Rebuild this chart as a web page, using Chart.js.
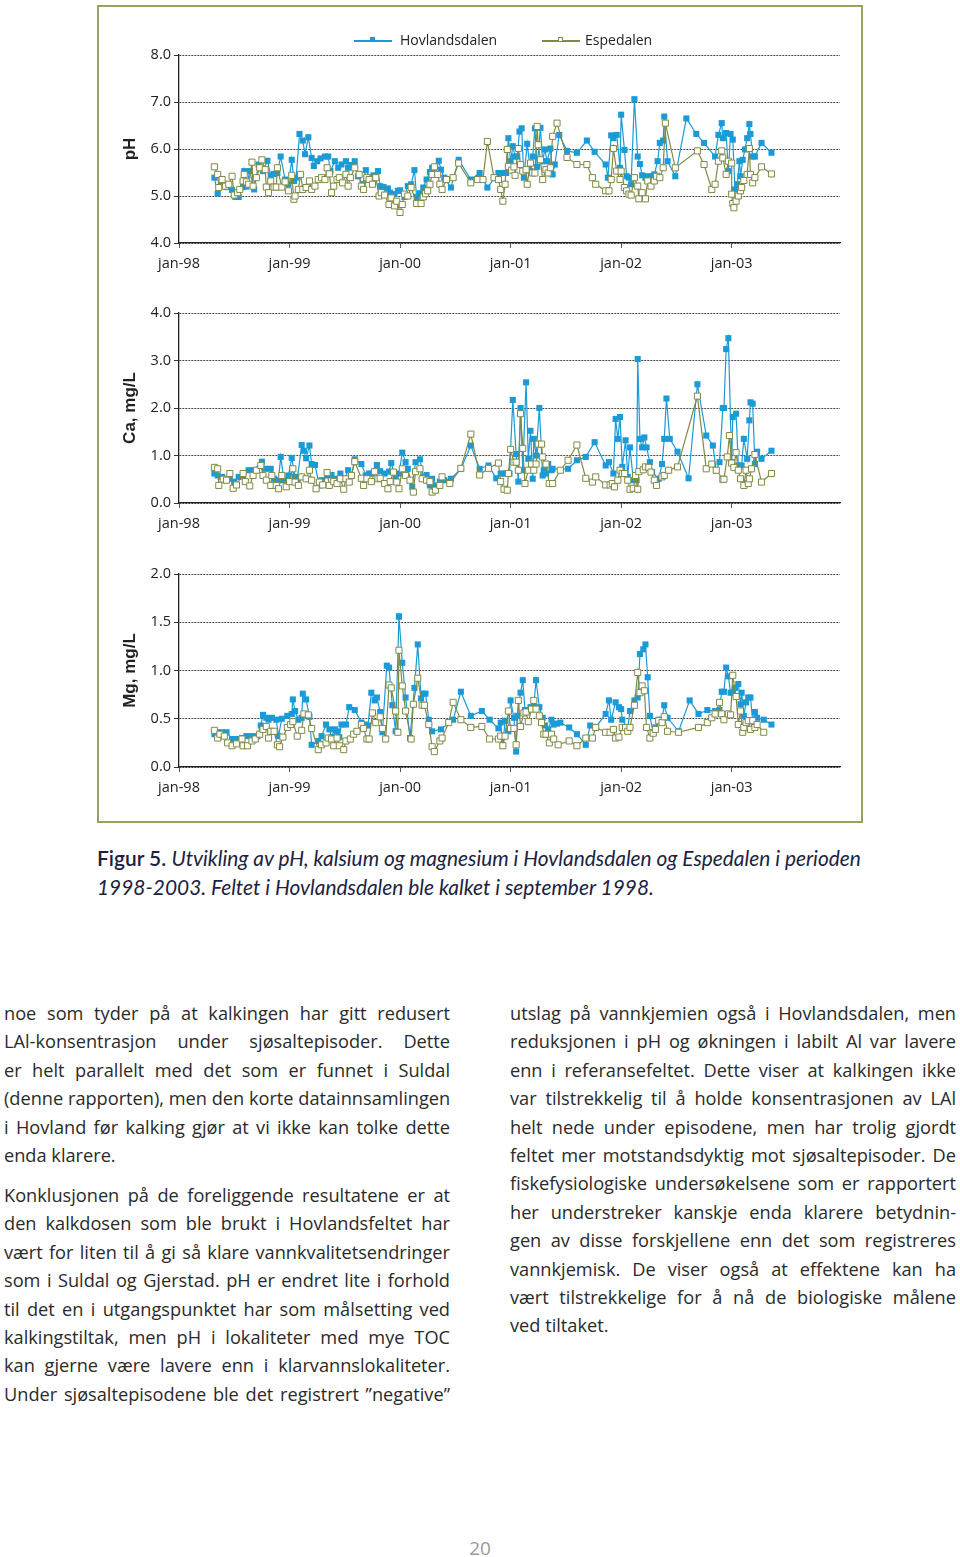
<!DOCTYPE html>
<html>
<head>
<meta charset="utf-8">
<script src="https://cdn.jsdelivr.net/npm/chart.js@4.4.1/dist/chart.umd.min.js"></script>
<style>
  html, body { margin:0; padding:0; background:#fff; }
  body { width:960px; height:1557px; position:relative; overflow:hidden; font-family:"Open Sans", sans-serif; }
  #frame { position:absolute; left:97px; top:5px; width:762px; height:814px; border:2px solid #97a263; }
  canvas.panel { position:absolute; left:97px; }
  .legend { position:absolute; top:31px; font-family:"Open Sans", sans-serif; font-size:14px; color:#222; line-height:18px; }
  .legend .ln { position:absolute; top:9px; height:1.5px; width:38px; }
  .legend .mk { position:absolute; top:6px; width:5px; height:5px; box-sizing:border-box; }
  .caption { position:absolute; left:97px; top:844px; width:820px; font-family:Lato, sans-serif; font-size:20.9px; line-height:28.5px; color:#1c2340; white-space:nowrap; }
  .caption b { font-weight:600; font-style:normal; }
  .caption i { font-style:italic; }
  .col { position:absolute; top:999px; width:446px; font-family:"Open Sans", sans-serif; font-size:18.2px; color:#2a2a2a; }
  .col div { height:28.4px; line-height:28.4px; white-space:nowrap; text-align:justify; text-align-last:justify; }
  .col div.last { text-align-last:left; }
  .col div.gap { margin-top:11.6px; }
  #pg { position:absolute; left:0; width:960px; top:1535px; text-align:center; font-family:"Open Sans", sans-serif; font-size:19px; color:#9a9a9a; }
</style>
</head>
<body>
<div id="frame"></div>
<canvas id="c1" class="panel" width="766" height="280" style="top:5px;width:766px;height:280px"></canvas>
<canvas id="c2" class="panel" width="766" height="255" style="top:285px;width:766px;height:255px"></canvas>
<canvas id="c3" class="panel" width="766" height="283" style="top:540px;width:766px;height:283px"></canvas>

<div class="legend" style="left:354px;">
  <span class="ln" style="left:0;background:#1a9bd7"></span>
  <span class="mk" style="left:16px;background:#1a9bd7"></span>
  <span style="position:absolute;left:46px;white-space:nowrap">Hovlandsdalen</span>
</div>
<div class="legend" style="left:542px;">
  <span class="ln" style="left:0;background:#7f8a45"></span>
  <span class="mk" style="left:16px;background:#fff;border:1px solid #7f8a45"></span>
  <span style="position:absolute;left:43px;white-space:nowrap">Espedalen</span>
</div>

<div class="caption"><b>Figur 5.</b> <i>Utvikling av pH, kalsium og magnesium i Hovlandsdalen og Espedalen i perioden<br>1998-2003. Feltet i Hovlandsdalen ble kalket i september 1998.</i></div>

<div class="col" style="left:4px;">
  <div>noe som tyder på at kalkingen har gitt redusert</div>
  <div>LAl-konsentrasjon under sjøsaltepisoder. Dette</div>
  <div>er helt parallelt med det som er funnet i Suldal</div>
  <div>(denne rapporten), men den korte datainnsamlingen</div>
  <div>i Hovland før kalking gjør at vi ikke kan tolke dette</div>
  <div class="last">enda klarere.</div>
  <div class="gap">Konklusjonen på de foreliggende resultatene er at</div>
  <div>den kalkdosen som ble brukt i Hovlandsfeltet har</div>
  <div>vært for liten til å gi så klare vannkvalitetsendringer</div>
  <div>som i Suldal og Gjerstad. pH er endret lite i forhold</div>
  <div>til det en i utgangspunktet har som målsetting ved</div>
  <div>kalkingstiltak, men pH i lokaliteter med mye TOC</div>
  <div>kan gjerne være lavere enn i klarvannslokaliteter.</div>
  <div>Under sjøsaltepisodene ble det registrert ”negative”</div>
</div>
<div class="col" style="left:510px;">
  <div>utslag på vannkjemien også i Hovlandsdalen, men</div>
  <div>reduksjonen i pH og økningen i labilt Al var lavere</div>
  <div>enn i referansefeltet. Dette viser at kalkingen ikke</div>
  <div>var tilstrekkelig til å holde konsentrasjonen av LAl</div>
  <div>helt nede under episodene, men har trolig gjordt</div>
  <div>feltet mer motstandsdyktig mot sjøsaltepisoder. De</div>
  <div>fiskefysiologiske undersøkelsene som er rapportert</div>
  <div>her understreker kanskje enda klarere betydnin-</div>
  <div>gen av disse forskjellene enn det som registreres</div>
  <div>vannkjemisk. De viser også at effektene kan ha</div>
  <div>vært tilstrekkelige for å nå de biologiske målene</div>
  <div class="last">ved tiltaket.</div>
</div>
<div id="pg">20</div>

<script>
// ---- Data (dates as decimal years) ----
const seriesNames = ['Hovlandsdalen', 'Espedalen'];
const xTickYears  = [1998, 1999, 2000, 2001, 2002, 2003];
const xTickLabels = ['jan-98', 'jan-99', 'jan-00', 'jan-01', 'jan-02', 'jan-03'];

// pH
const hovPhDates = [1998.32,1998.35,1998.39,1998.43,1998.48,1998.51,1998.54,1998.58,1998.59,1998.61,1998.64,1998.68,1998.72,1998.76,1998.80,1998.83,1998.86,1998.89,1998.92,1998.96,1998.99,1999.02,1999.04,1999.06,1999.09,1999.12,1999.14,1999.17,1999.20,1999.22,1999.25,1999.28,1999.32,1999.35,1999.37,1999.41,1999.44,1999.47,1999.51,1999.53,1999.56,1999.59,1999.62,1999.66,1999.69,1999.73,1999.76,1999.80,1999.82,1999.85,1999.89,1999.91,1999.95,1999.98,2000.00,2000.04,2000.07,2000.10,2000.13,2000.15,2000.18,2000.21,2000.24,2000.27,2000.29,2000.32,2000.35,2000.37,2000.40,2000.46,2000.53,2000.64,2000.72,2000.79,2000.89,2000.94,2000.96,2000.98,2001.00,2001.02,2001.04,2001.06,2001.08,2001.10,2001.12,2001.15,2001.18,2001.20,2001.22,2001.24,2001.27,2001.29,2001.31,2001.33,2001.36,2001.38,2001.40,2001.44,2001.51,2001.60,2001.69,2001.76,2001.86,2001.88,2001.91,2001.93,2001.96,2001.99,2002.00,2002.03,2002.05,2002.07,2002.09,2002.12,2002.15,2002.17,2002.19,2002.22,2002.24,2002.28,2002.30,2002.33,2002.35,2002.38,2002.39,2002.42,2002.49,2002.59,2002.68,2002.75,2002.85,2002.88,2002.91,2002.92,2002.95,2002.97,2002.99,2003.01,2003.03,2003.05,2003.07,2003.08,2003.10,2003.12,2003.14,2003.16,2003.17,2003.19,2003.21,2003.27,2003.36];
const hovPh = [5.39,5.05,5.25,5.19,5.13,4.98,4.98,5.19,5.53,5.20,5.53,5.14,5.67,5.53,5.75,5.44,5.47,5.49,5.84,5.35,5.25,5.77,5.32,5.39,6.32,6.18,5.89,6.25,5.81,5.64,5.74,5.80,5.84,5.84,5.53,5.74,5.60,5.67,5.74,5.60,5.66,5.74,5.42,5.25,5.55,5.39,5.44,5.53,5.21,5.19,5.16,5.07,5.04,5.11,5.12,4.98,5.21,5.25,5.55,4.98,5.06,5.18,5.35,5.51,5.60,5.46,5.75,5.56,5.39,5.18,5.77,5.35,5.49,5.18,5.49,5.49,5.49,6.23,5.74,6.06,5.84,5.84,6.37,6.44,5.39,6.11,5.53,5.84,6.44,5.62,6.45,5.74,5.99,5.74,6.01,5.46,5.67,6.30,5.96,5.92,6.18,5.94,5.67,5.39,6.29,6.23,6.30,5.60,6.73,5.98,5.42,5.39,5.25,7.06,5.84,5.68,5.44,5.39,5.42,5.42,5.46,5.74,6.13,6.18,6.69,5.74,5.42,6.65,6.32,6.13,5.84,6.30,6.55,6.23,6.34,5.53,6.32,6.20,5.14,5.25,5.74,5.42,5.77,5.99,6.23,6.53,6.32,5.84,5.84,6.13,5.92];
const espPhDates = [1998.32,1998.35,1998.36,1998.39,1998.42,1998.45,1998.48,1998.50,1998.53,1998.55,1998.58,1998.59,1998.61,1998.63,1998.66,1998.67,1998.70,1998.73,1998.75,1998.78,1998.79,1998.81,1998.83,1998.86,1998.88,1998.89,1998.93,1998.96,1998.99,1999.02,1999.04,1999.05,1999.08,1999.10,1999.12,1999.15,1999.18,1999.20,1999.23,1999.26,1999.29,1999.32,1999.34,1999.36,1999.38,1999.40,1999.43,1999.45,1999.48,1999.51,1999.53,1999.55,1999.59,1999.63,1999.65,1999.67,1999.70,1999.72,1999.75,1999.78,1999.81,1999.83,1999.86,1999.90,1999.92,1999.95,1999.97,2000.00,2000.02,2000.04,2000.07,2000.10,2000.15,2000.19,2000.21,2000.23,2000.25,2000.27,2000.29,2000.31,2000.34,2000.36,2000.38,2000.42,2000.48,2000.53,2000.64,2000.70,2000.75,2000.79,2000.85,2000.89,2000.91,2000.93,2000.95,2000.97,2000.98,2001.01,2001.03,2001.04,2001.07,2001.09,2001.11,2001.14,2001.15,2001.18,2001.20,2001.22,2001.24,2001.25,2001.27,2001.29,2001.32,2001.34,2001.36,2001.38,2001.42,2001.51,2001.60,2001.69,2001.74,2001.77,2001.86,2001.89,2001.91,2001.93,2001.96,2001.99,2002.00,2002.03,2002.05,2002.07,2002.09,2002.12,2002.15,2002.16,2002.19,2002.22,2002.24,2002.27,2002.30,2002.32,2002.35,2002.38,2002.40,2002.49,2002.69,2002.75,2002.82,2002.85,2002.88,2002.91,2002.92,2002.95,2002.97,2003.00,2003.00,2003.01,2003.02,2003.04,2003.06,2003.08,2003.09,2003.11,2003.14,2003.16,2003.17,2003.19,2003.21,2003.27,2003.36];
const espPh = [5.62,5.46,5.18,5.35,5.21,5.25,5.42,5.02,5.07,5.14,5.32,5.46,5.30,5.25,5.72,5.21,5.39,5.60,5.77,5.56,5.19,5.07,5.32,5.19,5.19,5.60,5.19,5.30,5.11,5.44,4.93,5.00,5.14,5.46,5.14,5.18,5.32,5.14,5.21,5.35,5.39,5.35,5.60,5.47,5.07,5.21,5.35,5.39,5.28,5.46,5.21,5.39,5.60,5.46,5.21,5.14,5.39,5.35,5.25,5.39,5.00,5.07,5.02,4.82,4.96,4.79,4.89,4.65,4.82,5.04,5.00,5.18,4.84,4.84,4.98,5.05,5.11,5.25,5.46,5.62,5.46,5.25,5.14,5.35,5.39,5.70,5.28,5.35,5.35,6.16,5.39,5.35,5.14,4.89,5.25,5.99,5.63,5.55,5.62,5.44,6.01,5.67,5.53,5.56,5.25,5.70,5.49,5.49,6.48,6.09,5.77,5.35,5.56,5.49,5.60,6.27,6.55,5.82,5.67,5.67,5.39,5.25,5.11,5.11,5.35,6.01,5.53,5.35,5.53,5.18,5.11,5.04,5.02,5.39,5.21,4.94,5.07,4.94,5.32,5.21,5.32,5.42,5.39,5.60,6.55,5.60,5.96,5.67,5.14,5.25,5.74,5.96,5.81,5.46,5.74,5.70,5.04,4.84,4.75,4.89,5.00,5.11,5.18,5.33,5.46,6.01,5.46,5.28,5.39,5.62,5.47];

// Calcium, mg/L
const hovCaDates = [1998.32,1998.35,1998.39,1998.42,1998.46,1998.50,1998.54,1998.58,1998.63,1998.67,1998.75,1998.78,1998.83,1998.86,1998.90,1998.92,1998.95,1998.99,1999.02,1999.05,1999.07,1999.11,1999.13,1999.15,1999.18,1999.20,1999.23,1999.27,1999.29,1999.34,1999.38,1999.43,1999.46,1999.50,1999.53,1999.56,1999.59,1999.65,1999.69,1999.72,1999.74,1999.79,1999.82,1999.86,1999.90,1999.92,1999.96,1999.99,2000.02,2000.05,2000.07,2000.11,2000.14,2000.18,2000.21,2000.24,2000.27,2000.29,2000.32,2000.36,2000.40,2000.46,2000.55,2000.64,2000.72,2000.80,2000.87,2000.91,2000.94,2000.97,2000.99,2001.02,2001.05,2001.07,2001.09,2001.11,2001.14,2001.16,2001.18,2001.20,2001.21,2001.23,2001.26,2001.29,2001.30,2001.32,2001.34,2001.37,2001.38,2001.52,2001.60,2001.68,2001.76,2001.86,2001.89,2001.93,2001.95,2001.97,2001.99,2002.01,2002.04,2002.06,2002.08,2002.11,2002.14,2002.15,2002.17,2002.19,2002.21,2002.23,2002.26,2002.28,2002.34,2002.37,2002.39,2002.41,2002.44,2002.51,2002.61,2002.69,2002.77,2002.83,2002.86,2002.89,2002.92,2002.93,2002.95,2002.97,2003.00,2003.01,2003.04,2003.06,2003.09,2003.11,2003.14,2003.16,2003.17,2003.19,2003.21,2003.23,2003.27,2003.36];
const hovCa = [0.62,0.58,0.55,0.48,0.51,0.45,0.55,0.58,0.69,0.69,0.87,0.72,0.72,0.51,0.48,0.97,0.48,0.58,0.95,0.55,0.51,1.22,1.10,0.94,1.21,0.82,0.80,0.37,0.48,0.58,0.59,0.51,0.62,0.51,0.69,0.58,0.92,0.82,0.58,0.62,0.62,0.80,0.67,0.62,0.66,0.84,0.51,0.62,1.06,0.86,0.72,0.34,0.86,0.92,0.55,0.59,0.37,0.51,0.37,0.45,0.48,0.51,0.72,1.21,0.72,0.79,0.52,0.62,0.62,0.62,0.62,2.17,1.03,0.45,2.00,0.69,2.54,0.93,1.52,0.51,1.35,1.00,2.00,0.58,0.69,0.62,0.82,0.69,0.72,0.72,0.90,0.97,1.28,0.79,0.86,0.62,1.77,1.35,1.81,0.76,1.32,0.55,1.17,0.48,0.48,3.03,1.35,1.17,1.38,1.17,0.86,0.65,0.51,0.82,1.35,2.20,1.35,1.08,0.52,2.50,1.42,1.21,0.69,0.86,2.00,2.00,3.24,3.47,0.86,1.81,1.88,0.79,0.79,1.35,0.93,1.74,2.12,2.09,0.82,1.08,0.93,1.10,0.79];
const espCaDates = [1998.32,1998.35,1998.36,1998.40,1998.43,1998.46,1998.49,1998.52,1998.58,1998.60,1998.64,1998.67,1998.70,1998.74,1998.76,1998.79,1998.83,1998.84,1998.88,1998.90,1998.93,1998.97,1999.00,1999.03,1999.05,1999.08,1999.11,1999.15,1999.18,1999.20,1999.24,1999.27,1999.30,1999.34,1999.36,1999.40,1999.43,1999.46,1999.49,1999.51,1999.54,1999.56,1999.59,1999.65,1999.67,1999.70,1999.74,1999.77,1999.80,1999.82,1999.86,1999.89,1999.91,1999.94,1999.97,1999.99,2000.02,2000.05,2000.09,2000.12,2000.14,2000.18,2000.20,2000.24,2000.27,2000.29,2000.32,2000.36,2000.38,2000.45,2000.55,2000.64,2000.72,2000.80,2000.89,2000.91,2000.94,2000.97,2000.98,2001.00,2001.03,2001.05,2001.07,2001.09,2001.11,2001.13,2001.16,2001.19,2001.21,2001.23,2001.25,2001.28,2001.29,2001.32,2001.35,2001.38,2001.45,2001.52,2001.60,2001.68,2001.74,2001.77,2001.86,2001.90,2001.92,2001.94,2001.97,2001.99,2002.01,2002.03,2002.06,2002.08,2002.11,2002.13,2002.15,2002.16,2002.20,2002.22,2002.25,2002.27,2002.30,2002.32,2002.37,2002.39,2002.43,2002.51,2002.69,2002.77,2002.82,2002.86,2002.92,2002.93,2002.96,2002.98,2003.00,2003.02,2003.04,2003.06,2003.08,2003.11,2003.13,2003.15,2003.16,2003.18,2003.21,2003.27,2003.36];
const espCa = [0.75,0.72,0.37,0.50,0.48,0.62,0.31,0.38,0.62,0.45,0.36,0.58,0.69,0.79,0.58,0.48,0.37,0.58,0.37,0.30,0.58,0.34,0.45,0.72,0.44,0.37,0.55,0.51,0.69,0.48,0.30,0.44,0.38,0.64,0.37,0.45,0.41,0.51,0.29,0.51,0.44,0.58,0.87,0.52,0.37,0.51,0.45,0.66,0.51,0.52,0.41,0.30,0.45,0.65,0.44,0.30,0.72,0.58,0.48,0.23,0.66,0.72,0.51,0.48,0.45,0.23,0.27,0.37,0.55,0.41,0.73,1.45,0.59,0.73,0.84,0.45,0.29,0.27,0.62,1.13,0.86,0.86,0.69,1.88,1.15,0.41,0.69,0.82,0.69,0.82,1.24,1.24,0.97,0.82,0.41,0.41,0.69,0.90,1.22,0.52,0.44,0.55,0.38,0.38,0.41,0.34,0.48,0.69,0.62,0.62,0.48,0.29,0.31,0.58,0.29,0.66,0.70,0.76,0.75,0.65,0.48,0.37,0.55,0.58,0.69,0.76,2.25,0.72,0.82,0.69,0.50,0.50,0.97,1.42,0.84,0.75,1.06,0.69,0.51,0.37,0.69,0.41,0.51,0.72,1.02,0.44,0.62,0.72,0.43];

// Magnesium, mg/L
const hovMgDates = [1998.32,1998.35,1998.39,1998.43,1998.48,1998.52,1998.57,1998.61,1998.66,1998.71,1998.74,1998.76,1998.79,1998.81,1998.84,1998.88,1998.90,1998.93,1998.98,1999.02,1999.03,1999.05,1999.08,1999.11,1999.12,1999.15,1999.18,1999.20,1999.26,1999.29,1999.33,1999.36,1999.38,1999.41,1999.43,1999.45,1999.47,1999.51,1999.54,1999.59,1999.65,1999.68,1999.71,1999.74,1999.77,1999.79,1999.82,1999.84,1999.88,1999.90,1999.93,1999.96,1999.99,1999.99,2000.02,2000.05,2000.09,2000.13,2000.16,2000.19,2000.21,2000.23,2000.26,2000.29,2000.37,2000.48,2000.55,2000.64,2000.74,2000.81,2000.89,2000.91,2000.93,2000.95,2000.98,2001.00,2001.03,2001.05,2001.06,2001.09,2001.11,2001.13,2001.15,2001.18,2001.21,2001.23,2001.26,2001.29,2001.31,2001.34,2001.37,2001.39,2001.42,2001.45,2001.53,2001.60,2001.68,2001.72,2001.77,2001.86,2001.89,2001.91,2001.95,2001.98,2002.00,2002.01,2002.06,2002.08,2002.12,2002.15,2002.17,2002.20,2002.22,2002.24,2002.26,2002.29,2002.31,2002.34,2002.37,2002.39,2002.42,2002.52,2002.62,2002.70,2002.78,2002.85,2002.89,2002.91,2002.93,2002.95,2002.97,2002.99,2003.01,2003.03,2003.06,2003.08,2003.09,2003.11,2003.13,2003.15,2003.17,2003.19,2003.21,2003.23,2003.29,2003.36];
const hovMg = [0.34,0.36,0.36,0.36,0.29,0.29,0.30,0.32,0.32,0.32,0.43,0.54,0.51,0.49,0.51,0.49,0.32,0.50,0.53,0.55,0.70,0.58,0.49,0.51,0.76,0.70,0.52,0.23,0.27,0.32,0.44,0.39,0.31,0.39,0.37,0.31,0.44,0.44,0.62,0.59,0.46,0.44,0.43,0.77,0.69,0.72,0.57,0.36,1.05,1.03,0.64,0.37,1.56,1.56,1.08,0.72,0.30,0.82,1.27,0.71,0.76,0.76,0.49,0.37,0.39,0.49,0.78,0.53,0.58,0.49,0.40,0.46,0.22,0.48,0.37,0.69,0.51,0.16,0.53,0.77,0.90,0.59,0.58,0.62,0.64,0.90,0.62,0.51,0.43,0.39,0.49,0.44,0.45,0.46,0.41,0.34,0.23,0.43,0.41,0.55,0.69,0.49,0.67,0.62,0.60,0.49,0.40,0.58,0.69,0.72,1.17,1.22,1.27,0.93,0.53,0.36,0.41,0.49,0.49,0.64,0.51,0.37,0.69,0.55,0.59,0.58,0.59,0.78,0.78,1.03,0.94,0.77,0.77,0.82,0.86,0.65,0.77,0.53,0.67,0.72,0.72,0.48,0.57,0.51,0.49,0.44];
const espMgDates = [1998.32,1998.35,1998.37,1998.41,1998.44,1998.48,1998.52,1998.57,1998.58,1998.62,1998.66,1998.69,1998.73,1998.76,1998.79,1998.81,1998.83,1998.86,1998.89,1998.91,1998.94,1998.98,1999.01,1999.03,1999.07,1999.11,1999.13,1999.17,1999.20,1999.26,1999.29,1999.33,1999.35,1999.38,1999.40,1999.43,1999.45,1999.49,1999.51,1999.55,1999.58,1999.61,1999.65,1999.67,1999.70,1999.72,1999.75,1999.78,1999.82,1999.84,1999.87,1999.90,1999.92,1999.96,1999.98,1999.99,2000.02,2000.05,2000.10,2000.12,2000.16,2000.20,2000.22,2000.26,2000.29,2000.31,2000.36,2000.38,2000.44,2000.48,2000.55,2000.64,2000.74,2000.81,2000.89,2000.91,2000.93,2000.95,2000.98,2001.00,2001.03,2001.05,2001.07,2001.09,2001.12,2001.14,2001.16,2001.19,2001.21,2001.23,2001.26,2001.28,2001.30,2001.32,2001.35,2001.37,2001.39,2001.43,2001.53,2001.60,2001.68,2001.74,2001.77,2001.86,2001.90,2001.93,2001.95,2001.98,2002.01,2002.04,2002.06,2002.08,2002.12,2002.15,2002.17,2002.19,2002.21,2002.23,2002.26,2002.29,2002.31,2002.34,2002.37,2002.39,2002.42,2002.52,2002.70,2002.78,2002.82,2002.85,2002.89,2002.91,2002.93,2002.97,2002.99,2003.01,2003.04,2003.06,2003.08,2003.10,2003.11,2003.13,2003.15,2003.17,2003.19,2003.21,2003.23,2003.29,2003.36];
const espMg = [0.38,0.30,0.34,0.32,0.25,0.22,0.24,0.29,0.22,0.22,0.27,0.29,0.34,0.39,0.42,0.30,0.37,0.37,0.23,0.21,0.31,0.41,0.44,0.47,0.32,0.38,0.55,0.54,0.40,0.18,0.23,0.25,0.30,0.29,0.22,0.30,0.22,0.18,0.27,0.29,0.34,0.37,0.44,0.40,0.29,0.29,0.56,0.46,0.52,0.40,0.29,0.85,0.82,0.58,0.36,1.21,0.84,0.58,0.29,0.65,0.92,0.64,0.64,0.44,0.21,0.16,0.27,0.30,0.46,0.67,0.49,0.41,0.42,0.29,0.29,0.32,0.22,0.32,0.58,0.40,0.40,0.23,0.69,0.42,0.56,0.57,0.47,0.60,0.69,0.60,0.53,0.46,0.34,0.34,0.25,0.34,0.29,0.23,0.27,0.22,0.30,0.30,0.41,0.36,0.36,0.39,0.30,0.31,0.41,0.41,0.37,0.41,0.64,0.98,0.77,0.84,0.79,0.41,0.30,0.35,0.39,0.48,0.46,0.52,0.37,0.36,0.41,0.46,0.51,0.55,0.67,0.55,0.49,0.55,0.54,0.95,0.73,0.44,0.58,0.36,0.41,0.46,0.48,0.39,0.48,0.41,0.44,0.36];

// ---- Styling ----
const HOV_COLOR = '#1a9bd7';
const ESP_COLOR = '#7f8a45';
const GRID_COLOR = '#4a4a4a';
const TICK_FONT = { family: '"Open Sans", sans-serif', size: 14.5 };

function pts(dates, vals) { return dates.map((d, i) => ({ x: d, y: vals[i] })); }

function makePanel(id, cfg) {
  return new Chart(document.getElementById(id), {
    type: 'line',
    data: {
      datasets: [
        { label: seriesNames[0], data: pts(cfg.hovDates, cfg.hov), borderColor: HOV_COLOR, backgroundColor: HOV_COLOR,
          borderWidth: 1.2, pointStyle: 'rect', pointRadius: 4.3, pointBorderWidth: 0, pointBackgroundColor: HOV_COLOR, order: 2, tension: 0 },
        { label: seriesNames[1], data: pts(cfg.espDates, cfg.esp), borderColor: ESP_COLOR, backgroundColor: '#ffffff',
          borderWidth: 1.2, pointStyle: 'rect', pointRadius: 4.3, pointBorderWidth: 1, pointBorderColor: ESP_COLOR, pointBackgroundColor: '#ffffff', order: 1, tension: 0 }
      ]
    },
    options: {
      responsive: false, animation: false, devicePixelRatio: 1,
      layout: { padding: { left: 0, right: 23, top: cfg.padTop, bottom: 0 } },
      plugins: { legend: { display: false }, tooltip: { enabled: false } },
      scales: {
        x: {
          type: 'linear', min: 1998, max: 2003.98,
          ticks: { stepSize: 1, includeBounds: false, autoSkip: false, maxRotation: 0, padding: 7, color: '#222', font: TICK_FONT,
                   callback: v => { const i = xTickYears.indexOf(v); return i >= 0 ? xTickLabels[i] : ''; } },
          grid: { drawOnChartArea: false, drawTicks: true, tickLength: 5, tickColor: '#555', lineWidth: 1 },
          border: { display: true, color: '#222', width: 1.3 },
          afterFit: s => { s.height = cfg.xHeight; }
        },
        y: {
          type: 'linear', min: cfg.yMin, max: cfg.yMax,
          ticks: { stepSize: cfg.yStep, padding: 3, color: '#222', font: TICK_FONT, callback: v => Number(v).toFixed(1) },
          grid: { color: GRID_COLOR, lineWidth: 1, drawTicks: true, tickLength: 5, tickColor: '#333' },
          border: { display: true, color: '#222', width: 1.3, dash: [2, 1] },
          title: { display: true, text: cfg.title, color: '#222', padding: { top: 23, bottom: 0 },
                   font: { family: '"Liberation Sans", Arial, sans-serif', size: 17, weight: 'bold' } },
          afterFit: s => { s.width = 82; }
        }
      }
    }
  });
}

makePanel('c1', { hovDates: hovPhDates, hov: hovPh, espDates: espPhDates, esp: espPh, yMin: 4, yMax: 8, yStep: 1, title: 'pH', padTop: 50, xHeight: 42 });
makePanel('c2', { hovDates: hovCaDates, hov: hovCa, espDates: espCaDates, esp: espCa, yMin: 0, yMax: 4, yStep: 1, title: 'Ca, mg/L', padTop: 28, xHeight: 37 });
makePanel('c3', { hovDates: hovMgDates, hov: hovMg, espDates: espMgDates, esp: espMg, yMin: 0, yMax: 2, yStep: 0.5, title: 'Mg, mg/L', padTop: 34, xHeight: 56 });
</script>
</body>
</html>
